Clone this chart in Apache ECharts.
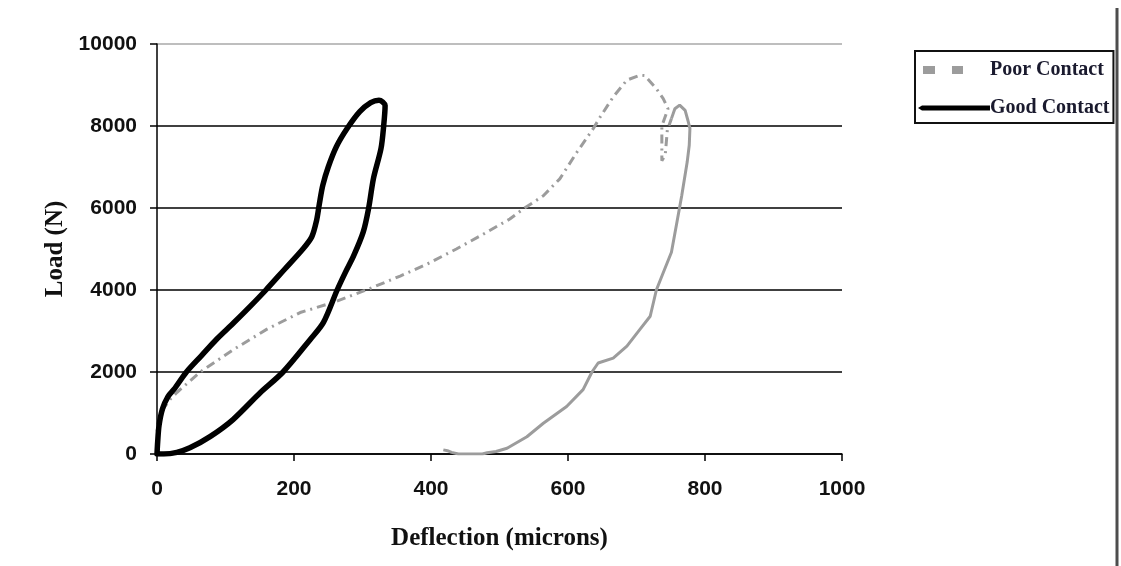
<!DOCTYPE html>
<html>
<head>
<meta charset="utf-8">
<script src="https://cdn.jsdelivr.net/npm/echarts@6/dist/echarts.min.js"></script>
<style>html,body{margin:0;padding:0;background:#fff}#c{width:1121px;height:566px}</style>
</head>
<body>
<div id="c"></div>
<script>
// ---- data (deflection in microns, load in N) ----
var seriesNames = ['Poor Contact', 'Good Contact'];
var xTicks = [0, 200, 400, 600, 800, 1000];
var yTicks = [0, 2000, 4000, 6000, 8000, 10000];

// Good contact: closed loading / unloading loop
var goodContact = [
  [0,0],[1,300],[3,700],[8,1100],[16,1400],[25,1580],[43,2000],[65,2400],[87,2800],
  [112,3200],[136,3600],[159,4000],[186,4500],[213,5000],[226,5300],[233,5700],
  [237,6100],[242,6550],[250,7000],[262,7500],[278,7950],[296,8350],[312,8570],
  [324,8630],[333,8500],[331,8020],[327,7450],[316,6720],[309,6000],[301,5410],
  [287,4830],[275,4430],[263,4000],[243,3210],[224,2800],[184,2000],[151,1500],
  [111,840],[78,430],[48,150],[29,40],[10,0],[0,0]
];

// Poor contact: loading branch (dash-dot) up to the peak region
var poorLoading = [
  [0,550],[4,900],[9,1100],[20,1350],[29,1500],[63,2000],[112,2550],[160,3040],
  [209,3450],[258,3700],[307,4010],[355,4340],[394,4630],[437,5000],[476,5360],
  [515,5730],[535,5980],[564,6300],[588,6710],[613,7360],[637,7940],[647,8220],
  [666,8710],[686,9120],[705,9240],[712,9230],[720,9080],[729,8910],[739,8670],
  [746,8420],[737,8000],[737,7150],[742,7300],[745,7900],[751,8180]
];

// Poor contact: unloading branch (solid)
var poorUnloading = [
  [751,8180],[756,8420],[763,8510],[771,8380],[775,8140],[778,7940],[777,7530],
  [774,7120],[766,6300],[759,5650],[751,4920],[739,4420],[729,4000],[720,3360],
  [705,3040],[686,2630],[666,2340],[644,2220],[635,2000],[622,1570],[598,1160],
  [564,750],[540,420],[511,140],[495,60],[482,30],[475,0],[440,0],[430,40],
  [424,80],[418,100]
];

var chart = echarts.init(document.getElementById('c'), null, {renderer: 'canvas'});

var gray = '#9c9c9c';
var serif = '"Liberation Serif", "Times New Roman", serif';
var sans = '"Liberation Sans", Arial, sans-serif';
var plain = function (v) { return String(v); };

var option = {
  backgroundColor: '#ffffff',
  animation: false,
  grid: { left: 157, right: 279, top: 44, bottom: 112, containLabel: false },
  xAxis: {
    type: 'value', min: xTicks[0], max: xTicks[xTicks.length - 1], interval: 200,
    name: 'Deflection (microns)', nameLocation: 'middle', nameGap: 72,
    nameTextStyle: { fontFamily: serif, fontWeight: 'bold', fontSize: 25, color: '#111' },
    axisLine: { show: true, onZero: false, lineStyle: { color: '#000', width: 1.5 } },
    axisTick: { show: true, inside: false, length: 7, lineStyle: { color: '#000', width: 1.5 } },
    axisLabel: { margin: 25, fontFamily: sans, fontWeight: 'bold', fontSize: 21, color: '#111', formatter: plain },
    splitLine: { show: false }
  },
  yAxis: {
    type: 'value', min: yTicks[0], max: yTicks[yTicks.length - 1], interval: 2000,
    name: 'Load (N)', nameLocation: 'middle', nameGap: 76, nameRotate: 90,
    nameTextStyle: { fontFamily: serif, fontWeight: 'bold', fontSize: 25, color: '#111' },
    axisLine: { show: true, onZero: false, lineStyle: { color: '#000', width: 1.5 } },
    axisTick: { show: true, inside: false, length: 7, lineStyle: { color: '#000', width: 1.5 } },
    axisLabel: { margin: 20, fontFamily: sans, fontWeight: 'bold', fontSize: 21, color: '#111', formatter: plain },
    splitLine: { show: true, lineStyle: { color: ['#000', '#000', '#000', '#000', '#000', '#a8a8a8'], width: 1.5 } }
  },
  legend: {
    orient: 'vertical', left: 915, top: 51,
    padding: [9, 4, 5, 3], itemGap: 18,
    itemWidth: 72, itemHeight: 8, symbolKeepAspect: false,
    borderColor: '#111', borderWidth: 2, backgroundColor: '#fff',
    textStyle: { fontFamily: serif, fontWeight: 'bold', fontSize: 20, color: '#1a1a2e', lineHeight: 20, padding: [0, 0, 0, -5] },
    data: [
      { name: seriesNames[0], icon: 'path://M0,0h0.01v0.01h-0.01z M5,0h12v8h-12z M34,0h11v8h-11z M72,8h0.01v0.01h-0.01z' },
      { name: seriesNames[1], icon: 'path://M0,0h0.01v0.01h-0.01z M0,4 L4,1.5 H72 V6.5 H4 Z M72,8h0.01v0.01h-0.01z' }
    ]
  },
  graphic: [
    { type: 'line', shape: { x1: 1117, y1: 8, x2: 1117, y2: 566 }, style: { stroke: '#4d4d4d', lineWidth: 3 }, z: 100 }
  ],
  series: [
    {
      name: seriesNames[0], type: 'line', data: poorLoading, showSymbol: false, symbol: 'none',
      smooth: false, color: gray,
      lineStyle: { color: gray, width: 3, type: [9, 5, 2, 5] }, z: 3
    },
    {
      name: seriesNames[0], type: 'line', data: poorUnloading, showSymbol: false, symbol: 'none',
      smooth: false, color: gray,
      lineStyle: { color: gray, width: 3, type: 'solid' }, z: 3
    },
    {
      name: seriesNames[1], type: 'line', data: goodContact, showSymbol: false, symbol: 'none',
      smooth: 0.3, color: '#000',
      lineStyle: { color: '#000', width: 5.5, join: 'round', cap: 'round' }, z: 4
    }
  ]
};
chart.setOption(option);
</script>
</body>
</html>
